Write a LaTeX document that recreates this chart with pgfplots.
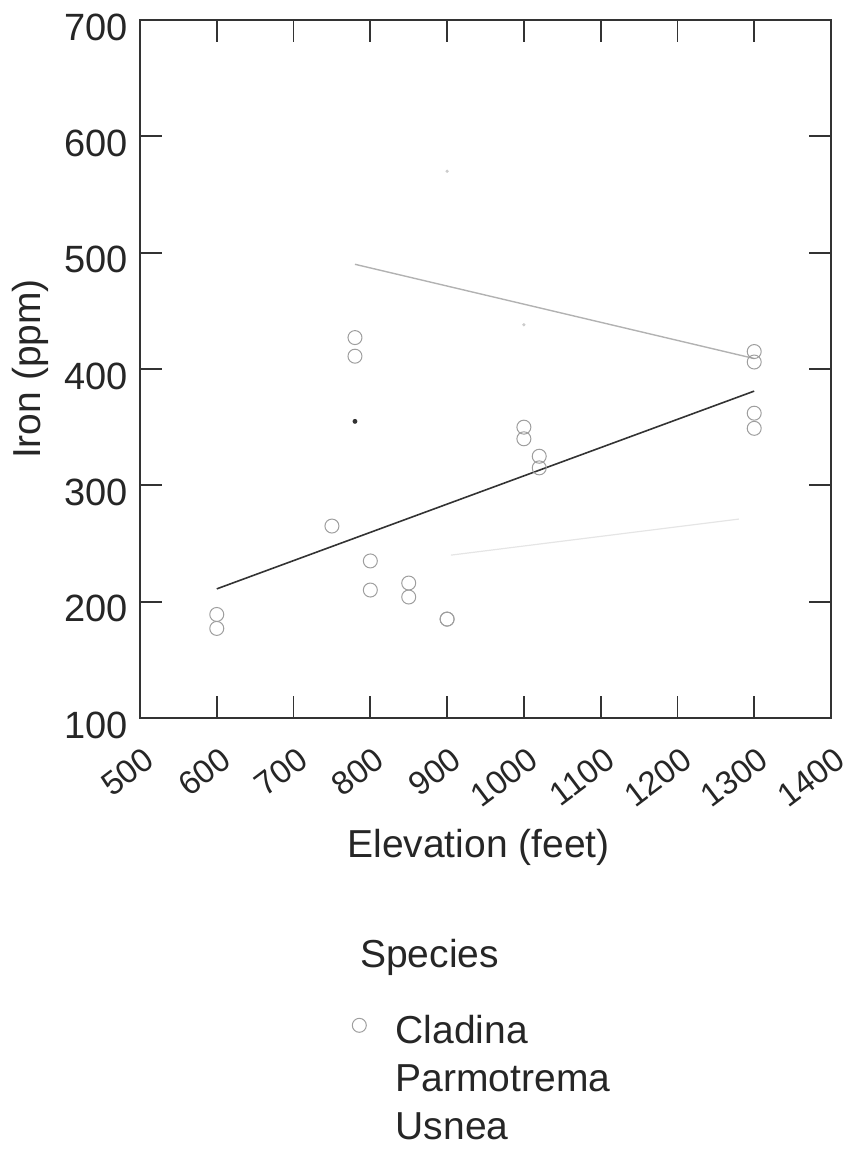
\documentclass[border=0pt]{standalone}
\usepackage{fontspec}
\setmainfont{Liberation Sans}
\usepackage{pgfplots}
\pgfplotsset{compat=1.18}

\definecolor{cladgray}{gray}{0.62}
\definecolor{parmgray}{gray}{0.70}
\definecolor{usngray}{gray}{0.90}

\begin{document}
\begin{tikzpicture}
\begin{axis}[
    name=ax,
    scale only axis,
    width=345.5pt, height=349pt,
    xmin=500, xmax=1400,
    ymin=100, ymax=700,
    xtick={500,600,...,1400},
    ytick={100,200,...,700},
    minor tick num=0,
    tick align=inside,
    major tick length=11pt,
    axis line style={line width=0.9pt, black!80},
    every tick/.style={line width=0.9pt, black!80},
    /pgf/number format/assume math mode=true,
    /pgf/number format/1000 sep={},
    yticklabel style={font=\fontsize{19}{22}\selectfont, text=black!85, xshift=-2.5pt, yshift=-3.5pt},
    xticklabel style={font=\fontsize{16.5}{19}\selectfont, text=black!85,
        rotate=37, anchor=north east, xshift=-4pt, yshift=-8.5pt},
    label style={font=\fontsize{19.5}{22}\selectfont, text=black!85},
    xlabel={Elevation (feet)},
    ylabel={Iron (ppm)},
    x label style={at={(axis description cs:0.49,-0.186)}, anchor=center},
    y label style={at={(axis description cs:-0.159,0.5)}, anchor=center},
    legend style={draw=none, fill=none, at={(axis description cs:0.298,-0.414)},
        anchor=north west, font=\fontsize{19.5}{22}\selectfont, text=black!85,
        row sep=5pt},
    legend cell align=left,
    clip=false,
]

% Cladina observations
\addplot[only marks, mark=o, mark size=3.5pt, mark options={draw=cladgray, line width=0.5pt},
    legend image code/.code={
        \path[draw=none] (0cm,0cm) -- (0.6cm,0cm);
        \draw[cladgray, line width=0.5pt] plot[only marks, mark=o, mark size=3.5pt] coordinates {(0.03cm,0.1cm)};}]
    coordinates {
(600,189) (600,177) (750,265) (780,427) (780,411) (800,235) (800,210)
(850,216) (850,204) (900,185) (900,185) (1000,350) (1000,340)
(1020,325) (1020,315) (1300,415) (1300,406) (1300,362) (1300,349)
    };
\addlegendentry{Cladina}

% Parmotrema fit (faint)
\addplot[parmgray, line width=0.7pt, forget plot] coordinates {(780,490) (1300,409)};
\addlegendimage{empty legend}
\addlegendentry{Parmotrema}

% Usnea fit (nearly invisible)
\addplot[usngray, line width=0.6pt, forget plot] coordinates {(905,240) (1280,271)};
\addlegendimage{empty legend}
\addlegendentry{Usnea}

% stray marks
\addplot[only marks, mark=*, mark size=1pt, black!80, forget plot] coordinates {(780,355)};
\addplot[only marks, mark=*, mark size=0.6pt, gray!40, forget plot] coordinates {(900,570) (1000,438)};

% overall regression line
\addplot[black!80, line width=0.8pt, forget plot] coordinates {(600,211) (1300,381)};

\node[anchor=base west, inner sep=0pt, font=\fontsize{19.5}{22}\selectfont, text=black!85]
    at (axis description cs:0.318,-0.358) {Species};
\end{axis}
\pgfresetboundingbox
\path[use as bounding box] ([xshift=-70pt,yshift=359pt]ax.south west) rectangle ([xshift=352.5pt,yshift=-215.5pt]ax.south west);
\end{tikzpicture}
\end{document}
